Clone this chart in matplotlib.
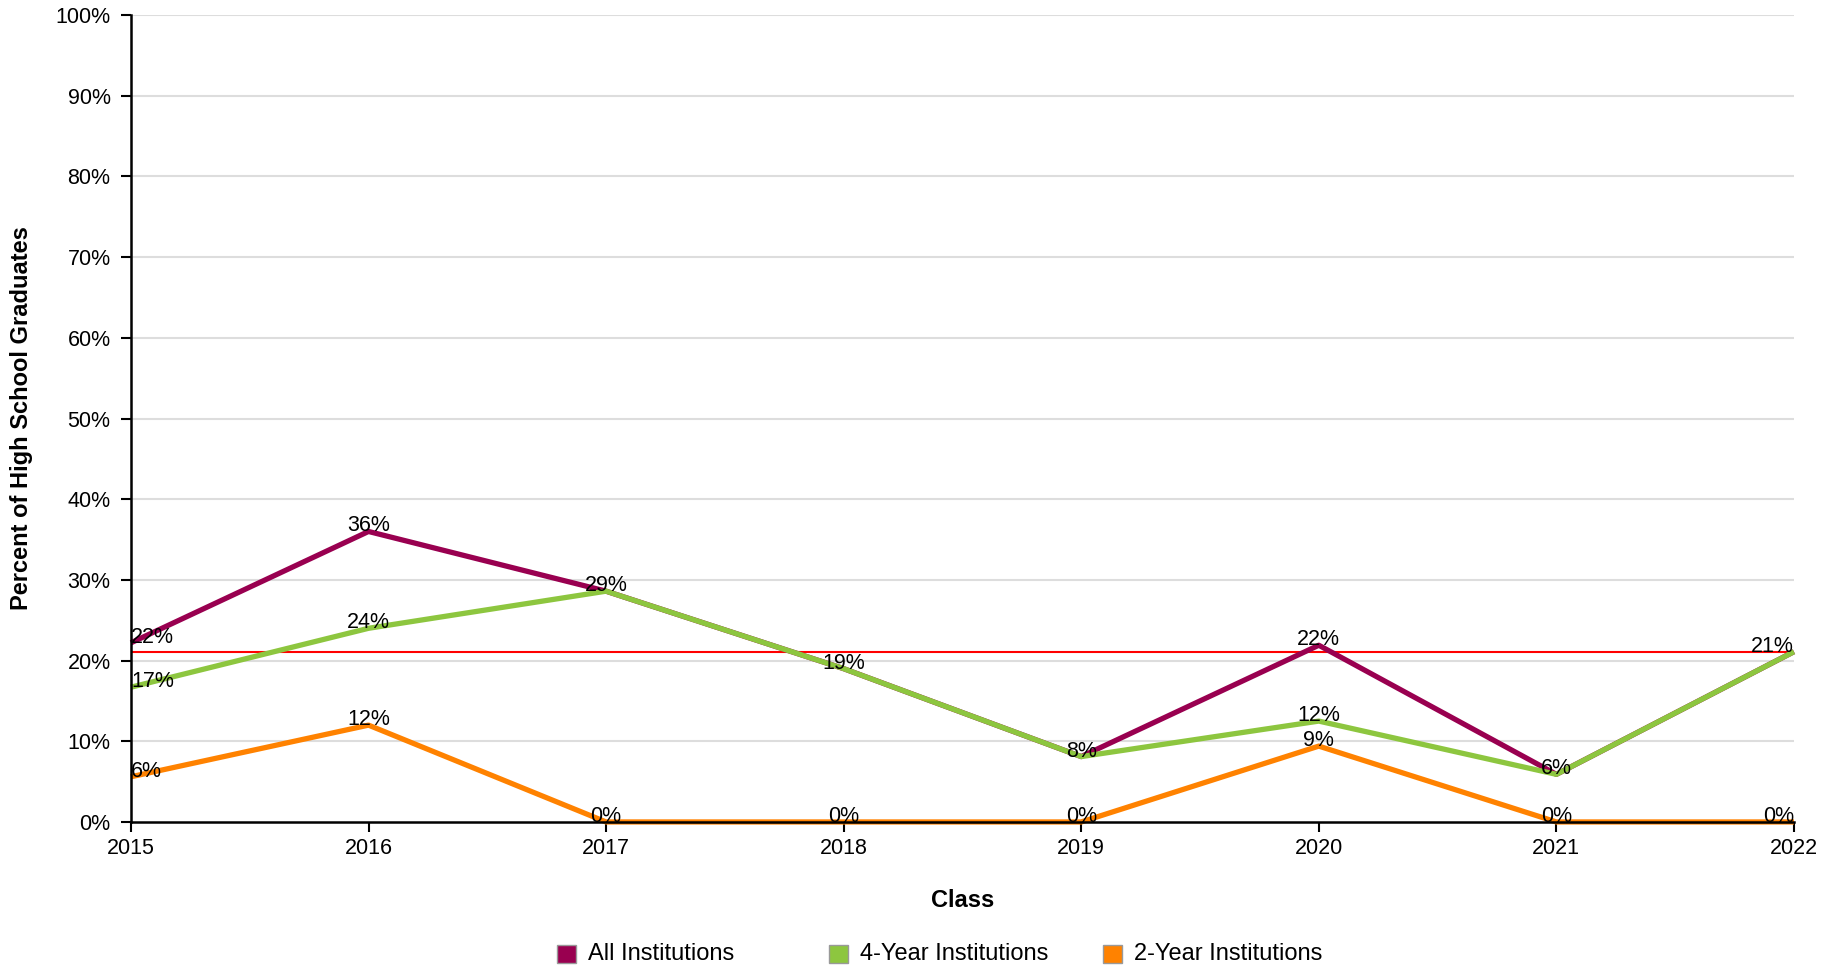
import matplotlib.pyplot as plt
from matplotlib.patches import Rectangle

plt.rcParams['font.family'] = ['Liberation Sans', 'DejaVu Sans']

# 数据
years = [2015, 2016, 2017, 2018, 2019, 2020, 2021, 2022]
all_inst = [22.2, 36.0, 28.6, 19.0, 8.1, 21.9, 5.9, 21.1]
four_year = [16.7, 24.0, 28.6, 19.0, 8.1, 12.5, 5.9, 21.1]
two_year = [5.6, 12.0, 0.0, 0.0, 0.0, 9.4, 0.0, 0.0]
benchmark = 21.1

series = [
    ('All Institutions', all_inst, '#990050'),
    ('4-Year Institutions', four_year, '#8DC63F'),
    ('2-Year Institutions', two_year, '#FF8200'),
]

fig = plt.figure(figsize=(18.39, 9.71), dpi=100)
ax = fig.add_axes([0.0712, 0.1535, 0.9043, 0.831])

# 网格
for v in range(10, 101, 10):
    ax.axhline(v, color='#dddddd', lw=1.5, zorder=0)

ax.axhline(benchmark, color='#ff0000', lw=1.5, zorder=1)

for name, vals, col in series:
    ax.plot(years, vals, color=col, lw=3.8, solid_capstyle='butt', zorder=3, clip_on=False)

# 数据标签 (两端的标签贴着边, 重合的只画一次)
seen = set()
for name, vals, col in series:
    for x, v in zip(years, vals):
        key = (x, round(v, 1))
        if key in seen:
            continue
        seen.add(key)
        ha = 'left' if x == years[0] else ('right' if x == years[-1] else 'center')
        ax.text(x, v, f'{round(v):.0f}%', ha=ha, va='baseline', fontsize=15.5, zorder=5)

ax.set_xlim(2015, 2022)
ax.set_ylim(0, 100)
ax.set_xticks(years)
ax.set_yticks(range(0, 101, 10))
ax.set_yticklabels([f'{v}%' for v in range(0, 101, 10)])
ax.tick_params(labelsize=15.5, length=7.2, width=1.5, direction='out', colors='black')
ax.tick_params(axis='x', pad=4.5)
ax.tick_params(axis='y', pad=7.5)
for s in ['top', 'right']:
    ax.spines[s].set_visible(False)
for s in ['left', 'bottom']:
    ax.spines[s].set_linewidth(1.8)
    ax.spines[s].set_zorder(4)

ax.set_xlabel('Class', fontsize=17, fontweight='bold', va='center')
ax.xaxis.set_label_coords(0.5, -0.0968)
ax.set_ylabel('Percent of High School Graduates', fontsize=17, fontweight='bold',
              va='center', ha='center')
ax.yaxis.set_label_coords(-0.066, 0.5)

# 图例
leg_x = [0.3080, 0.456, 0.605]
leg_y = 0.0175
sq_w, sq_h = 19 / 1839, 18 / 971
for (name, vals, col), lx in zip(series, leg_x):
    fig.patches.append(Rectangle((lx - sq_w / 2, leg_y - sq_h / 2), sq_w, sq_h,
                                 facecolor=col, edgecolor='#999999', lw=1,
                                 transform=fig.transFigure))
    fig.text(lx + 0.0115, leg_y, name, fontsize=17, va='center', ha='left')

fig.savefig('out.png', dpi=100)
